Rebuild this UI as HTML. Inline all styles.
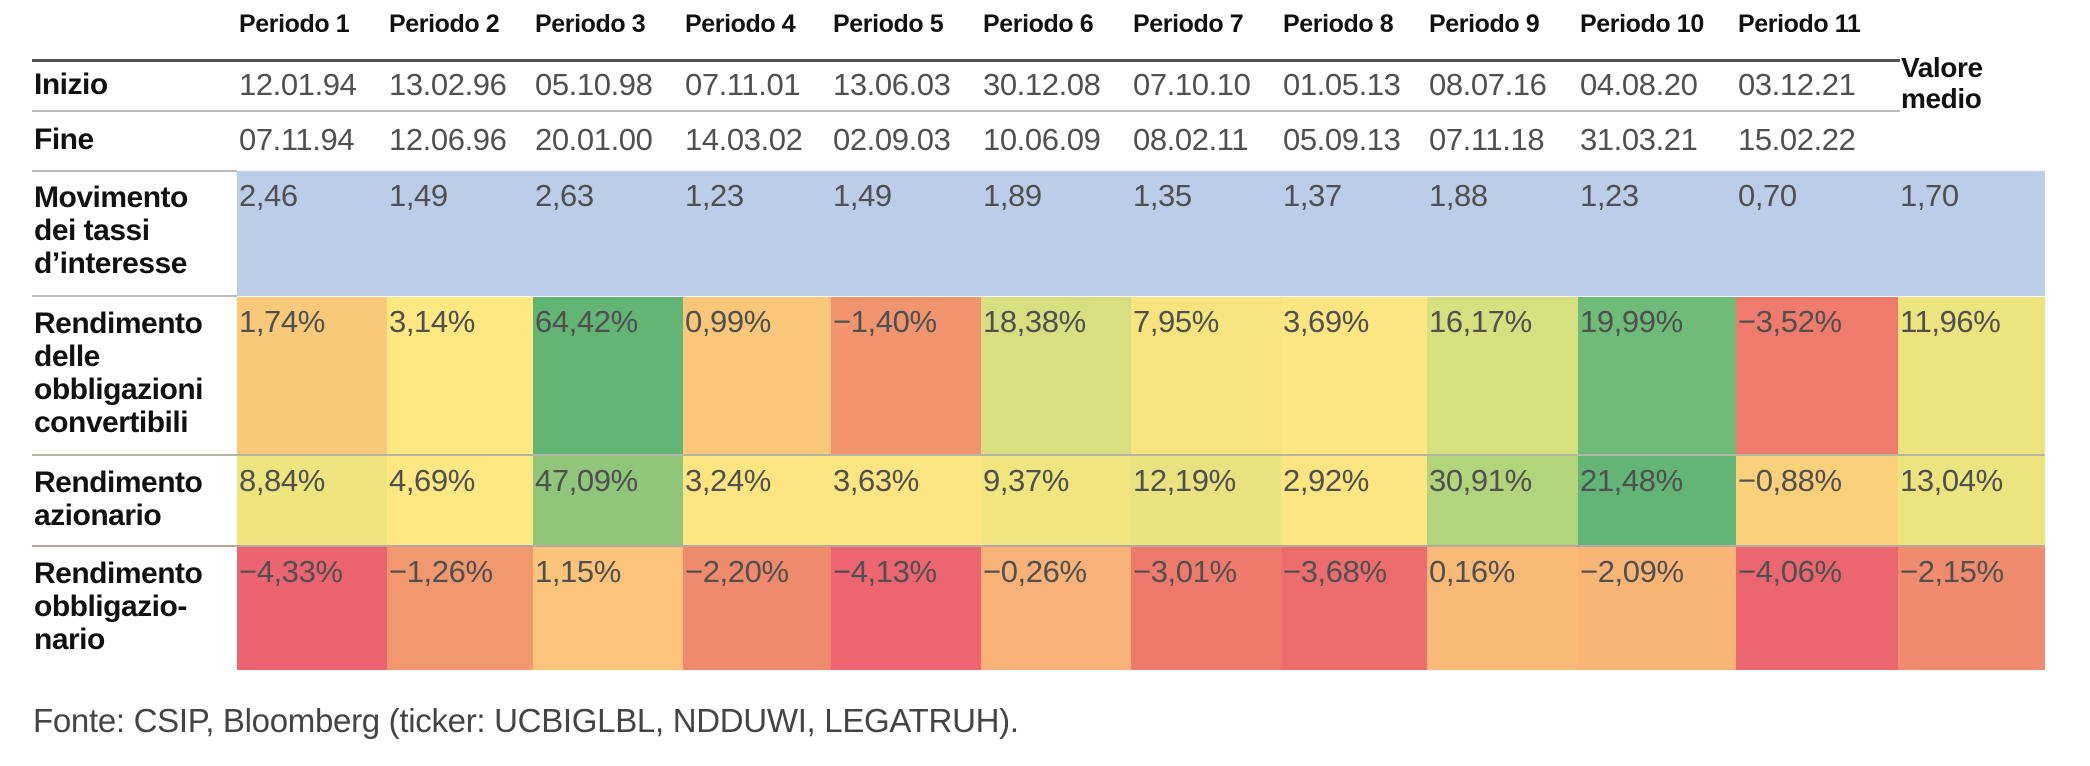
<!DOCTYPE html>
<html><head><meta charset="utf-8">
<style>
*{margin:0;padding:0;box-sizing:border-box}
body{width:2090px;height:766px;background:#fff;position:relative;overflow:hidden;font-family:"Liberation Sans",Arial,sans-serif}
.row{position:absolute;left:32px;display:grid;grid-template-columns:205px 150px 146px 150px 148px 150px 150px 150px 146px 151px 158px 162px 147px}
.row div{padding-left:2px;white-space:nowrap}
.lab{font-weight:bold;color:#111;font-size:30px;line-height:33px;letter-spacing:-0.5px}
.v{font-size:31px;color:#505050;letter-spacing:-0.4px}
.hd div{font-weight:bold;font-size:25px;color:#111;letter-spacing:-0.4px}
.line{position:absolute;left:32px;background:#999}
</style></head><body>
<div class="row hd" style="top:10px;height:32px"><div></div><div>Periodo 1</div><div>Periodo 2</div><div>Periodo 3</div><div>Periodo 4</div><div>Periodo 5</div><div>Periodo 6</div><div>Periodo 7</div><div>Periodo 8</div><div>Periodo 9</div><div>Periodo 10</div><div>Periodo 11</div><div></div></div>
<div class="line" style="top:59px;width:1868px;height:3px;background:#555"></div>
<div class="row" style="top:66px;height:40px;line-height:38px"><div class="lab" style="line-height:38px">Inizio</div><div class="v">12.01.94</div><div class="v">13.02.96</div><div class="v">05.10.98</div><div class="v">07.11.01</div><div class="v">13.06.03</div><div class="v">30.12.08</div><div class="v">07.10.10</div><div class="v">01.05.13</div><div class="v">08.07.16</div><div class="v">04.08.20</div><div class="v">03.12.21</div><div></div></div>
<div class="line" style="top:110px;width:1868px;height:2px;background:#bbb"></div>
<div class="row" style="top:121px;height:40px;line-height:38px"><div class="lab" style="line-height:38px">Fine</div><div class="v">07.11.94</div><div class="v">12.06.96</div><div class="v">20.01.00</div><div class="v">14.03.02</div><div class="v">02.09.03</div><div class="v">10.06.09</div><div class="v">08.02.11</div><div class="v">05.09.13</div><div class="v">07.11.18</div><div class="v">31.03.21</div><div class="v">15.02.22</div><div></div></div>
<div style="position:absolute;left:1901px;top:52px;font-weight:bold;font-size:28px;line-height:31px;color:#111;letter-spacing:-0.4px">Valore<br>medio</div>
<div class="line" style="top:170px;width:205px;height:2px;background:#bbb"></div>

<div class="row" style="top:171px;height:125px"><div class="lab" style="padding-top:10px">Movimento<br>dei tassi<br>d’interesse</div>
<div class="v" style="background:#bccde9;grid-column:2/14;display:grid;grid-template-columns:150px 146px 150px 148px 150px 150px 150px 146px 151px 158px 162px 147px;padding:0"><div style="padding:7px 0 0 2px">2,46</div><div style="padding:7px 0 0 2px">1,49</div><div style="padding:7px 0 0 2px">2,63</div><div style="padding:7px 0 0 2px">1,23</div><div style="padding:7px 0 0 2px">1,49</div><div style="padding:7px 0 0 2px">1,89</div><div style="padding:7px 0 0 2px">1,35</div><div style="padding:7px 0 0 2px">1,37</div><div style="padding:7px 0 0 2px">1,88</div><div style="padding:7px 0 0 2px">1,23</div><div style="padding:7px 0 0 2px">0,70</div><div style="padding:7px 0 0 2px">1,70</div></div></div>
<div class="line" style="top:295px;width:205px;height:2px;background:#bbb"></div>

<div class="row v" style="top:297px;height:158px"><div class="lab" style="padding-top:10px">Rendimento<br>delle<br>obbligazioni<br>convertibili</div>
<div style="background:#f9c97a;padding-top:7px">1,74%</div><div style="background:#fde882;padding-top:7px">3,14%</div><div style="background:#62b574;padding-top:7px">64,42%</div><div style="background:#f9c77a;padding-top:7px">0,99%</div><div style="background:#f0956e;padding-top:7px">−1,40%</div><div style="background:#d8df80;padding-top:7px">18,38%</div><div style="background:#f6e57f;padding-top:7px">7,95%</div><div style="background:#fde681;padding-top:7px">3,69%</div><div style="background:#d7e07f;padding-top:7px">16,17%</div><div style="background:#6fbb78;padding-top:7px">19,99%</div><div style="background:#ee7b6b;padding-top:7px">−3,52%</div><div style="background:#ece47f;padding-top:7px">11,96%</div></div>
<div class="line" style="top:454px;width:2013px;height:2px;background:#b5b5a5"></div>

<div class="row v" style="top:456px;height:90px"><div class="lab" style="padding-top:10px">Rendimento<br>azionario</div>
<div style="background:#eee57f;padding-top:7px">8,84%</div><div style="background:#fde882;padding-top:7px">4,69%</div><div style="background:#8fc67a;padding-top:7px">47,09%</div><div style="background:#fde681;padding-top:7px">3,24%</div><div style="background:#fde681;padding-top:7px">3,63%</div><div style="background:#f1e57f;padding-top:7px">9,37%</div><div style="background:#e8e27f;padding-top:7px">12,19%</div><div style="background:#fde681;padding-top:7px">2,92%</div><div style="background:#b2d47b;padding-top:7px">30,91%</div><div style="background:#62b574;padding-top:7px">21,48%</div><div style="background:#fbd07b;padding-top:7px">−0,88%</div><div style="background:#ece47f;padding-top:7px">13,04%</div></div>
<div class="line" style="top:545px;width:2013px;height:2px;background:#b5a8a0"></div>

<div class="row v" style="top:547px;height:123px"><div class="lab" style="padding-top:10px">Rendimento<br>obbligazio-<br>nario</div>
<div style="background:#ec6470;padding-top:7px">−4,33%</div><div style="background:#f2986e;padding-top:7px">−1,26%</div><div style="background:#fbc47a;padding-top:7px">1,15%</div><div style="background:#f08a6d;padding-top:7px">−2,20%</div><div style="background:#ec6570;padding-top:7px">−4,13%</div><div style="background:#f8b277;padding-top:7px">−0,26%</div><div style="background:#ef7a6c;padding-top:7px">−3,01%</div><div style="background:#ed6d6e;padding-top:7px">−3,68%</div><div style="background:#f9b977;padding-top:7px">0,16%</div><div style="background:#f8b575;padding-top:7px">−2,09%</div><div style="background:#ec6670;padding-top:7px">−4,06%</div><div style="background:#f18b6e;padding-top:7px">−2,15%</div></div>

<div style="position:absolute;left:33px;top:702px;font-size:33px;color:#444;letter-spacing:-0.3px">Fonte: CSIP, Bloomberg (ticker: UCBIGLBL, NDDUWI, LEGATRUH).</div>
</body></html>
